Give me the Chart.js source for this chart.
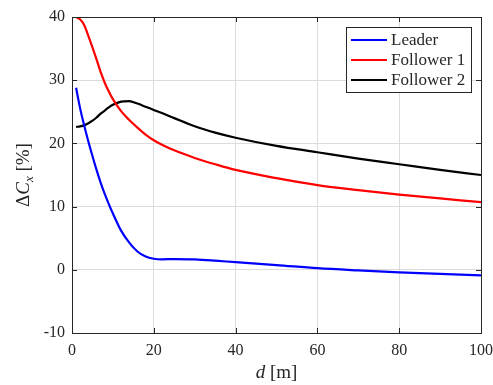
<!DOCTYPE html>
<html>
<head>
<meta charset="utf-8">
<script src="https://cdn.jsdelivr.net/npm/chart.js@4.4.1/dist/chart.umd.min.js"></script>
<style>
  html, body { margin: 0; padding: 0; background: #fff; }
  #wrap { width: 493px; height: 385px; }
</style>
</head>
<body>
<div id="wrap"><canvas id="plot"></canvas></div>
<script>
// distance d [m]
var dValues = [1, 2, 3, 4, 5, 6, 7, 8, 9, 10, 12, 14, 16, 18, 20, 22, 25, 30, 35, 40, 50, 60, 70, 80, 90, 100];

// Delta Cx [%] per vehicle
var leader = [28.8, 25.5, 22.8, 20.3, 18.0, 15.8, 13.8, 12.0, 10.4, 8.9, 6.2, 4.3, 2.9, 2.1, 1.75, 1.65, 1.7, 1.65, 1.45, 1.2, 0.75, 0.25, -0.1, -0.4, -0.65, -0.87];
var follower1 = [40.0, 39.6, 38.7, 37.0, 35.2, 33.3, 31.3, 29.6, 28.2, 27.0, 25.1, 23.7, 22.5, 21.4, 20.5, 19.8, 18.9, 17.7, 16.7, 15.8, 14.5, 13.4, 12.6, 11.9, 11.3, 10.7];
var follower2 = [22.6, 22.7, 22.85, 23.2, 23.6, 24.1, 24.7, 25.2, 25.7, 26.1, 26.6, 26.7, 26.3, 25.8, 25.3, 24.8, 24.0, 22.7, 21.7, 20.9, 19.6, 18.6, 17.6, 16.7, 15.8, 15.0];

var xTicks = [0, 20, 40, 60, 80, 100];
var yTicks = [-10, 0, 10, 20, 30, 40];

var axisColor = "#262626";
var serif = "'Liberation Serif', 'Times New Roman', serif";

function toPoints(ys) {
  return dValues.map(function (d, i) { return { x: d, y: ys[i] }; });
}

// box, inward ticks, axis labels and legend, matlab style
var matlabAxes = {
  id: "matlabAxes",
  afterDraw: function (chart) {
    var ctx = chart.ctx;
    var a = chart.chartArea;
    var xs = chart.scales.x, ys = chart.scales.y;
    var tl = 5;

    ctx.save();
    ctx.strokeStyle = axisColor;
    ctx.lineWidth = 1;
    ctx.beginPath();
    xTicks.forEach(function (t) {
      var px = Math.round(xs.getPixelForValue(t)) + 0.5;
      ctx.moveTo(px, a.bottom); ctx.lineTo(px, a.bottom - tl);
      ctx.moveTo(px, a.top); ctx.lineTo(px, a.top + tl);
    });
    yTicks.forEach(function (t) {
      var py = Math.round(ys.getPixelForValue(t)) + 0.5;
      ctx.moveTo(a.left, py); ctx.lineTo(a.left + tl, py);
      ctx.moveTo(a.right, py); ctx.lineTo(a.right - tl, py);
    });
    ctx.stroke();
    ctx.strokeRect(Math.round(a.left) + 0.5, Math.round(a.top) + 0.5,
      Math.round(a.right - a.left), Math.round(a.bottom - a.top));

    // x label: d [m]
    ctx.fillStyle = axisColor;
    ctx.textBaseline = "alphabetic";
    ctx.font = "italic 19px " + serif;
    var w1 = ctx.measureText("d").width;
    ctx.font = "19px " + serif;
    var w2 = ctx.measureText(" [m]").width;
    var cx = (a.left + a.right) / 2 - (w1 + w2) / 2;
    ctx.textAlign = "left";
    ctx.font = "italic 19px " + serif;
    ctx.fillText("d", cx, 378);
    ctx.font = "19px " + serif;
    ctx.fillText(" [m]", cx + w1, 378);

    // y label: ΔCx [%]
    ctx.save();
    ctx.translate(29, (a.top + a.bottom) / 2);
    ctx.rotate(-Math.PI / 2);
    var parts = [
      { t: "\u0394", f: "19px " + serif, dy: 0 },
      { t: "C", f: "italic 19px " + serif, dy: 0 },
      { t: "x", f: "italic 13px " + serif, dy: 4 },
      { t: " [%]", f: "19px " + serif, dy: 0 }
    ];
    var total = 0;
    parts.forEach(function (p) { ctx.font = p.f; p.w = ctx.measureText(p.t).width; total += p.w; });
    var px = -total / 2;
    parts.forEach(function (p) {
      ctx.font = p.f;
      ctx.fillText(p.t, px, p.dy);
      px += p.w;
    });
    ctx.restore();

    // legend
    var lx = 346, ly = 27, lw = 125, lh = 65;
    ctx.fillStyle = "#fff";
    ctx.fillRect(lx, ly, lw, lh);
    ctx.strokeStyle = axisColor;
    ctx.strokeRect(lx + 0.5, ly + 0.5, lw, lh);
    ctx.font = "17px " + serif;
    ctx.textBaseline = "middle";
    chart.data.datasets.forEach(function (ds, i) {
      var yy = ly + 13 + i * 20;
      ctx.strokeStyle = ds.borderColor;
      ctx.lineWidth = 2;
      ctx.beginPath();
      ctx.moveTo(lx + 5, yy);
      ctx.lineTo(lx + 41, yy);
      ctx.stroke();
      ctx.fillStyle = axisColor;
      ctx.fillText(ds.label, lx + 45, yy + 1);
    });
    ctx.restore();
  }
};

function makeChart() {
  var ctx = document.getElementById("plot").getContext("2d");
  return new Chart(ctx, {
    type: "line",
    data: {
      datasets: [
        { label: "Leader", data: toPoints(leader), borderColor: "#0000ff", borderWidth: 2.2, pointRadius: 0, cubicInterpolationMode: "monotone", fill: false },
        { label: "Follower 1", data: toPoints(follower1), borderColor: "#ff0000", borderWidth: 2.2, pointRadius: 0, cubicInterpolationMode: "monotone", fill: false },
        { label: "Follower 2", data: toPoints(follower2), borderColor: "#000000", borderWidth: 2.2, pointRadius: 0, cubicInterpolationMode: "monotone", fill: false }
      ]
    },
    options: {
      responsive: true,
      maintainAspectRatio: false,
      animation: false,
      layout: { padding: { left: 0, top: 17, right: 12, bottom: 0 } },
      plugins: { legend: { display: false }, tooltip: { enabled: false } },
      scales: {
        x: {
          type: "linear",
          min: 0,
          max: 100,
          afterBuildTicks: function (s) { s.ticks = xTicks.map(function (v) { return { value: v }; }); },
          afterFit: function (s) { s.height = 52; s.paddingLeft = 0; s.paddingRight = 0; },
          grid: { color: "#dcdcdc", lineWidth: 1, drawTicks: false },
          border: { display: false },
          ticks: { color: axisColor, font: { family: serif, size: 16 }, padding: 8, maxRotation: 0 }
        },
        y: {
          min: -10,
          max: 40,
          afterBuildTicks: function (s) { s.ticks = yTicks.map(function (v) { return { value: v }; }); },
          afterFit: function (s) { s.width = 72; s.paddingTop = 0; s.paddingBottom = 0; },
          grid: { color: "#dcdcdc", lineWidth: 1, drawTicks: false },
          border: { display: false },
          ticks: { color: axisColor, font: { family: serif, size: 16 }, padding: 7 }
        }
      }
    },
    plugins: [matlabAxes]
  });
}

makeChart();
</script>
</body>
</html>
